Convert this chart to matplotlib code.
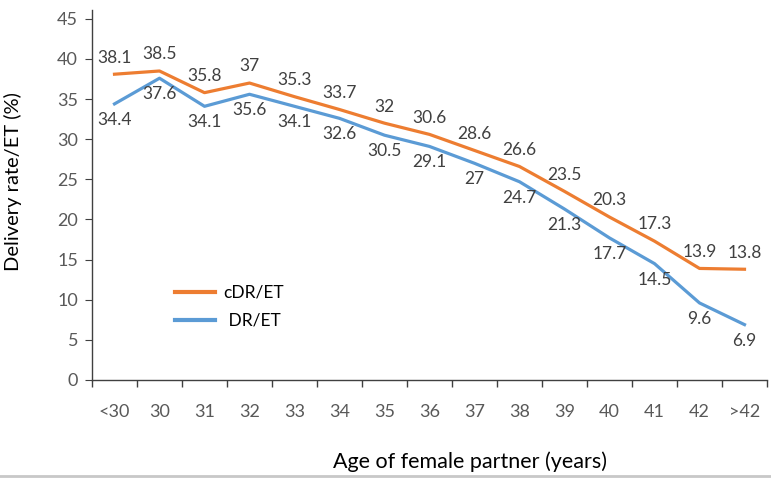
import matplotlib.pyplot as plt
from matplotlib.lines import Line2D

ages = ['<30', '30', '31', '32', '33', '34', '35', '36', '37', '38', '39', '40', '41', '42', '>42']
cdr_et = [38.1, 38.5, 35.8, 37, 35.3, 33.7, 32, 30.6, 28.6, 26.6, 23.5, 20.3, 17.3, 13.9, 13.8]
dr_et = [34.4, 37.6, 34.1, 35.6, 34.1, 32.6, 30.5, 29.1, 27, 24.7, 21.3, 17.7, 14.5, 9.6, 6.9]
cdr_labels = ['38.1', '38.5', '35.8', '37', '35.3', '33.7', '32', '30.6', '28.6', '26.6', '23.5', '20.3', '17.3', '13.9', '13.8']
dr_labels = ['34.4', '37.6', '34.1', '35.6', '34.1', '32.6', '30.5', '29.1', '27', '24.7', '21.3', '17.7', '14.5', '9.6', '6.9']

orange = '#ED7D31'
blue = '#5B9BD5'
txt = '#404040'

plt.rcParams['font.family'] = ['Lato', 'DejaVu Sans']

fig = plt.figure(figsize=(7.71, 4.79), dpi=100)
ax = fig.add_axes([92 / 771, 1 - 380 / 479, 675 / 771, 370 / 479])

x = list(range(len(ages)))
ax.plot(x, cdr_et, color=orange, lw=2.3, solid_joinstyle='round')
ax.plot(x, dr_et, color=blue, lw=2.3, solid_joinstyle='round')

for i in x:
    ax.annotate(cdr_labels[i], (i, cdr_et[i]), xytext=(0, 12), textcoords='offset points',
                ha='center', va='center', fontsize=12.5, color=txt)
    ax.annotate(dr_labels[i], (i, dr_et[i]), xytext=(0, -11.5), textcoords='offset points',
                ha='center', va='center', fontsize=12.5, color=txt)

ax.set_xlim(-0.5, len(ages) - 0.5)
ax.set_ylim(0, 46.1)
ax.set_yticks(range(0, 50, 5))
ax.set_xticks(x)
ax.set_xticklabels(ages)
ax.set_xticks([i - 0.5 for i in range(len(ages) + 1)], minor=True)
ax.tick_params(axis='x', which='major', length=0, pad=17, labelsize=13, labelcolor='#595959')
ax.tick_params(axis='x', which='minor', length=5, color='#404040', width=1)
ax.tick_params(axis='y', length=5, color='#404040', labelsize=13, labelcolor='#595959', pad=5)

for s in ['top', 'right']:
    ax.spines[s].set_visible(False)
for s in ['left', 'bottom']:
    ax.spines[s].set_color('#404040')
    ax.spines[s].set_linewidth(1)

fig.text(13 / 771, 1 - 182 / 479, 'Delivery rate/ET (%)', rotation=90, ha='center', va='center',
         fontsize=14.5, color='black')
fig.text(470 / 771, 1 - 462 / 479, 'Age of female partner (years)', ha='center', va='center',
         fontsize=15.5, color='black')

handles = [Line2D([], [], color=orange, lw=3), Line2D([], [], color=blue, lw=3)]
ax.legend(handles, ['cDR/ET', ' DR/ET'], loc='upper left', bbox_to_anchor=(0.1, 0.3),
          frameon=False, fontsize=12.5, handlelength=2.3, handletextpad=0.5, labelspacing=0.7)

fig.add_artist(Line2D([0, 1], [1 - 476 / 479, 1 - 476 / 479], color='#c8c8c8', lw=2))

fig.savefig('out.png', dpi=100)
